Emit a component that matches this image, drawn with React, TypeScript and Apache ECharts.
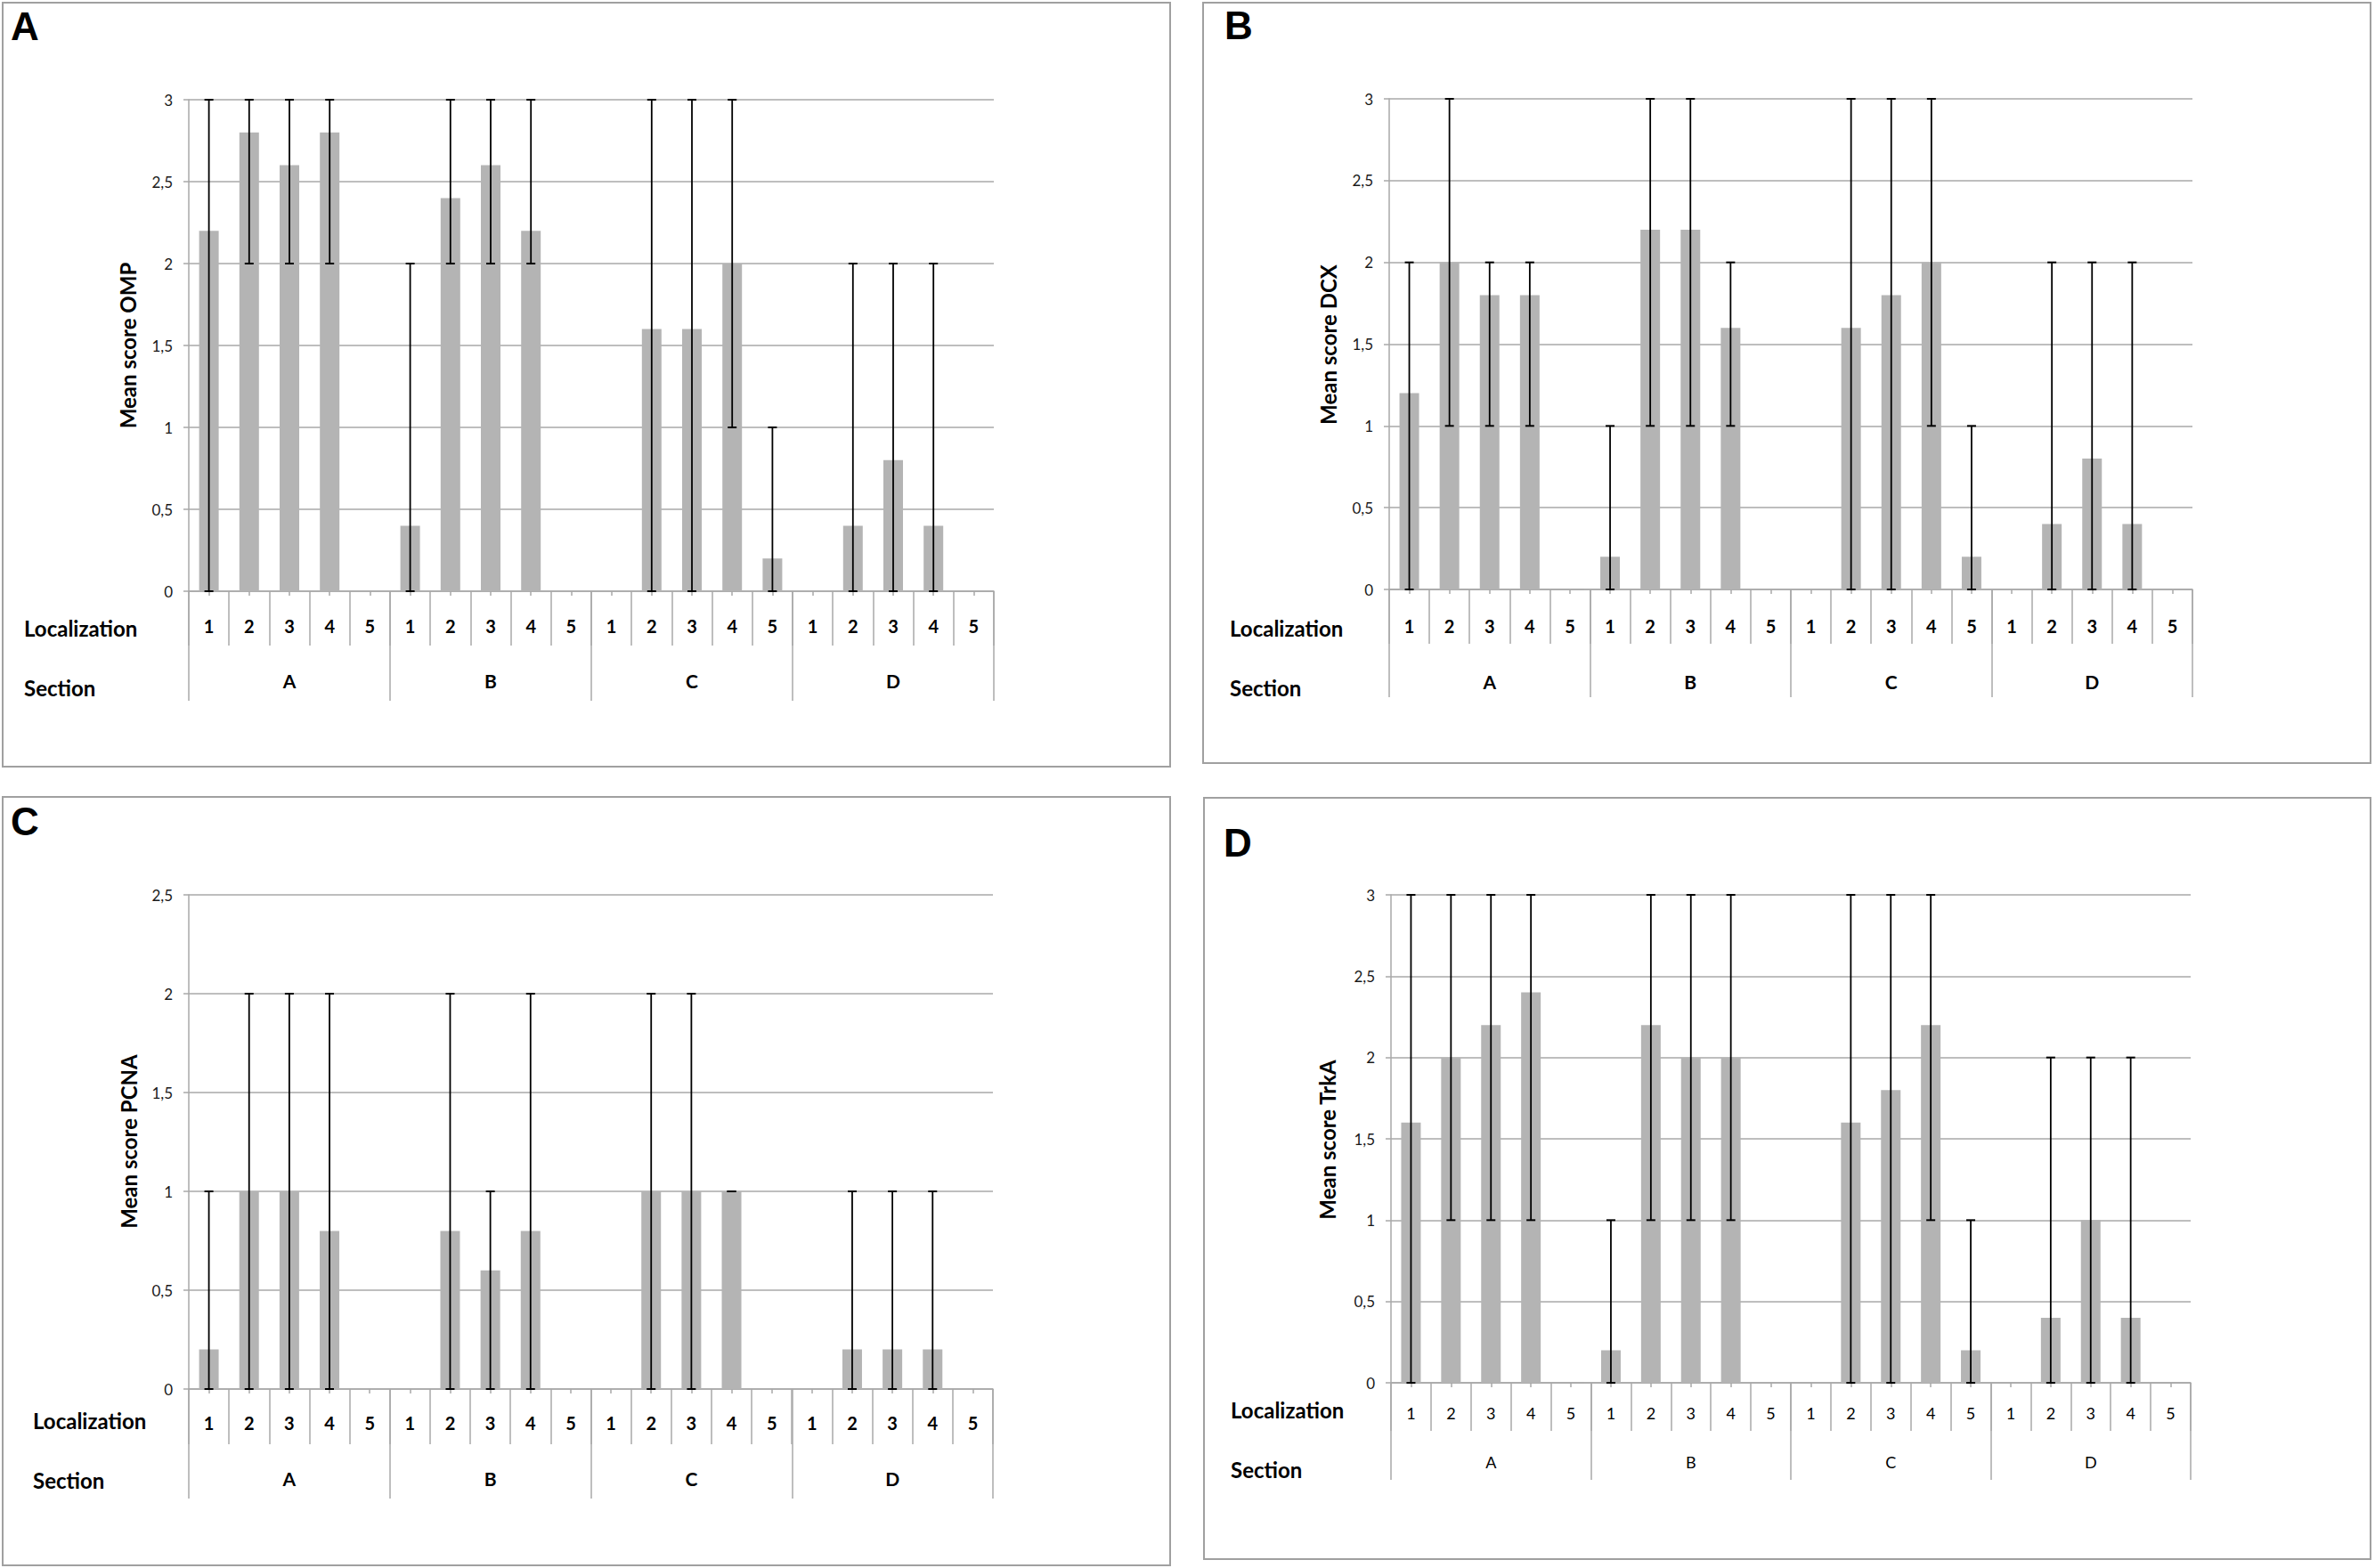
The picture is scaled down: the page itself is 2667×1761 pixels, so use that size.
import React, { useEffect, useRef } from 'react';
import * as echarts from 'echarts';

// ---------- data ----------
const localizations = ['1', '2', '3', '4', '5'];
const sections = ['A', 'B', 'C', 'D'];
const panelLetters = ['A', 'B', 'C', 'D'];
const markers = ['OMP', 'DCX', 'PCNA', 'TrkA'];
const yMaxes = [3, 3, 2.5, 3];

const ompMean = [2.2, 2.8, 2.6, 2.8, 0, 0.4, 2.4, 2.6, 2.2, 0, 0, 1.6, 1.6, 2.0, 0.2, 0, 0.4, 0.8, 0.4, 0];
const ompLow = [0, 2, 2, 2, null, 0, 2, 2, 2, null, null, 0, 0, 1, 0, null, 0, 0, 0, null];
const ompHigh = [3, 3, 3, 3, null, 2, 3, 3, 3, null, null, 3, 3, 3, 1, null, 2, 2, 2, null];

const dcxMean = [1.2, 2.0, 1.8, 1.8, 0, 0.2, 2.2, 2.2, 1.6, 0, 0, 1.6, 1.8, 2.0, 0.2, 0, 0.4, 0.8, 0.4, 0];
const dcxLow = [0, 1, 1, 1, null, 0, 1, 1, 1, null, null, 0, 0, 1, 0, null, 0, 0, 0, null];
const dcxHigh = [2, 3, 2, 2, null, 1, 3, 3, 2, null, null, 3, 3, 3, 1, null, 2, 2, 2, null];

const pcnaMean = [0.2, 1.0, 1.0, 0.8, 0, 0, 0.8, 0.6, 0.8, 0, 0, 1.0, 1.0, 1.0, 0, 0, 0.2, 0.2, 0.2, 0];
const pcnaLow = [0, 0, 0, 0, null, null, 0, 0, 0, null, null, 0, 0, 1, null, null, 0, 0, 0, null];
const pcnaHigh = [1, 2, 2, 2, null, null, 2, 1, 2, null, null, 2, 2, 1, null, null, 1, 1, 1, null];

const trkaMean = [1.6, 2.0, 2.2, 2.4, 0, 0.2, 2.2, 2.0, 2.0, 0, 0, 1.6, 1.8, 2.2, 0.2, 0, 0.4, 1.0, 0.4, 0];
const trkaLow = [0, 1, 1, 1, null, 0, 1, 1, 1, null, null, 0, 0, 1, 0, null, 0, 0, 0, null];
const trkaHigh = [3, 3, 3, 3, null, 1, 3, 3, 3, null, null, 3, 3, 3, 1, null, 2, 2, 2, null];

const means = [ompMean, dcxMean, pcnaMean, trkaMean];
const lows = [ompLow, dcxLow, pcnaLow, trkaLow];
const highs = [ompHigh, dcxHigh, pcnaHigh, trkaHigh];

// ---------- layout ----------
const W = 2667;
const H = 1761;
const FONT = 'Lato, "Open Sans", sans-serif';
const GRID_COLOR = '#a8a8a8';
const BAR_COLOR = '#b4b4b4';

const layouts = [
  { box: [3, 3, 1311, 858], grid: { left: 212, top: 112, width: 904, height: 552 }, letter: [12, 29], yTitle: [143, 388], rowX: 27, locY: 705, secY: 772, locTick: 61, secTick: 123, locMargin: 39, secMargin: 100, bold: true },
  { box: [1351, 3, 1311, 854], grid: { left: 1560, top: 111, width: 902, height: 551 }, letter: [1375, 28], yTitle: [1491, 387], rowX: 1381, locY: 705, secY: 772, locTick: 61, secTick: 121, locMargin: 41, secMargin: 103, bold: true },
  { box: [3, 895, 1311, 863], grid: { left: 212, top: 1005, width: 903, height: 555 }, letter: [12, 922], yTitle: [144, 1282], rowX: 37, locY: 1595, secY: 1662, locTick: 62, secTick: 123, locMargin: 38, secMargin: 100, bold: true },
  { box: [1352, 896, 1310, 855], grid: { left: 1562, top: 1005, width: 898, height: 548 }, letter: [1374, 946], yTitle: [1490, 1280], rowX: 1382, locY: 1583, secY: 1650, locTick: 54, secTick: 109, locMargin: 34, secMargin: 89, bold: false },
];

const categories = sections.flatMap((s) => localizations.map((l) => s + l));

function errorRender(params: any, api: any) {
  const x = api.value(0);
  const lo = api.value(1);
  const hi = api.value(2);
  const pLo = api.coord([x, lo]);
  const pHi = api.coord([x, hi]);
  const cap = 5;
  const st = { stroke: '#000', lineWidth: 2 };
  return {
    type: 'group',
    children: [
      { type: 'line', shape: { x1: pLo[0], y1: pLo[1], x2: pHi[0], y2: pHi[1] }, style: { stroke: '#000', lineWidth: 1.8 } },
      { type: 'line', shape: { x1: pHi[0] - cap, y1: pHi[1], x2: pHi[0] + cap, y2: pHi[1] }, style: st },
      { type: 'line', shape: { x1: pLo[0] - cap, y1: pLo[1], x2: pLo[0] + cap, y2: pLo[1] }, style: st },
    ],
  };
}

function buildOption() {
  const grids: any[] = [];
  const xAxes: any[] = [];
  const yAxes: any[] = [];
  const series: any[] = [];
  const graphics: any[] = [];

  layouts.forEach((L, i) => {
    grids.push({ ...L.grid, containLabel: false });
    const tickLine = { color: GRID_COLOR, width: 1.5 };
    xAxes.push({
      type: 'category', gridIndex: i, data: categories, position: 'bottom',
      axisLine: { show: true, onZero: false, lineStyle: tickLine },
      axisTick: { show: true, alignWithLabel: false, interval: 0, length: L.locTick, lineStyle: tickLine },
      axisLabel: {
        interval: 0, margin: L.locMargin, verticalAlign: 'middle',
        formatter: (v: string) => v.slice(1),
        fontFamily: FONT, fontSize: L.bold ? 20 : 18, fontWeight: L.bold ? 'bold' : 'normal', color: '#000',
      },
      splitLine: { show: false },
    });
    xAxes.push({
      type: 'category', gridIndex: i, data: sections, position: 'bottom',
      axisLine: { show: false, onZero: false },
      axisTick: { show: true, alignWithLabel: false, interval: 0, length: L.secTick, lineStyle: tickLine },
      axisLabel: {
        interval: 0, margin: L.secMargin, verticalAlign: 'middle',
        fontFamily: FONT, fontSize: L.bold ? 21 : 18, fontWeight: L.bold ? 'bold' : 'normal', color: '#000',
      },
      splitLine: { show: false },
    });
    xAxes.push({
      type: 'category', gridIndex: i, data: categories, position: 'bottom',
      axisLine: { show: false, onZero: false },
      axisTick: { show: true, alignWithLabel: true, interval: 0, length: 5, lineStyle: tickLine },
      axisLabel: { show: false },
      splitLine: { show: false },
    });
    yAxes.push({
      type: 'value', gridIndex: i, min: 0, max: yMaxes[i], interval: 0.5,
      axisLine: { show: true, lineStyle: tickLine },
      axisTick: { show: true, length: 6, lineStyle: tickLine },
      axisLabel: {
        margin: 18, fontFamily: FONT, fontSize: 17, color: '#1a1a1a',
        formatter: (v: number) => String(v).replace('.', ','),
      },
      splitLine: { show: true, lineStyle: { color: GRID_COLOR, width: 1.5 } },
    });

    series.push({
      type: 'bar', name: markers[i], xAxisIndex: i * 3, yAxisIndex: i,
      data: means[i], barWidth: 22, itemStyle: { color: BAR_COLOR }, z: 2,
    });
    const errData: any[] = [];
    lows[i].forEach((lo, k) => {
      if (lo !== null && highs[i][k] !== null) errData.push([k, lo, highs[i][k]]);
    });
    series.push({
      type: 'custom', name: markers[i] + ' range', xAxisIndex: i * 3, yAxisIndex: i,
      data: errData, encode: { x: 0, y: [1, 2] }, renderItem: errorRender, z: 5,
    });

    graphics.push({
      type: 'rect', shape: { x: L.box[0], y: L.box[1], width: L.box[2], height: L.box[3] },
      style: { fill: 'none', stroke: '#a0a0a0', lineWidth: 2 }, z: 0,
    });
    graphics.push({
      type: 'text', x: L.letter[0], y: L.letter[1],
      style: { text: panelLetters[i], font: 'bold 44px "Liberation Sans", Arial, sans-serif', fill: '#000', align: 'left', verticalAlign: 'middle', textAlign: 'left', textVerticalAlign: 'middle' },
    });
    graphics.push({
      type: 'text', x: L.yTitle[0], y: L.yTitle[1], rotation: Math.PI / 2,
      style: { text: 'Mean score ' + markers[i], font: 'bold 24px ' + FONT, fill: '#000', align: 'center', verticalAlign: 'middle', textAlign: 'center', textVerticalAlign: 'middle' },
    });
    graphics.push({
      type: 'text', x: L.rowX, y: L.locY,
      style: { text: 'Localization', font: 'bold 24px ' + FONT, fill: '#000', align: 'left', verticalAlign: 'middle', textAlign: 'left', textVerticalAlign: 'middle' },
    });
    graphics.push({
      type: 'text', x: L.rowX, y: L.secY,
      style: { text: 'Section', font: 'bold 24px ' + FONT, fill: '#000', align: 'left', verticalAlign: 'middle', textAlign: 'left', textVerticalAlign: 'middle' },
    });
  });

  return {
    animation: false,
    backgroundColor: '#ffffff',
    grid: grids,
    xAxis: xAxes,
    yAxis: yAxes,
    series,
    graphic: { elements: graphics },
  };
}

export default function App() {
  const ref = useRef<HTMLDivElement>(null);
  useEffect(() => {
    document.body.style.margin = '0';
    const chart = echarts.init(ref.current as HTMLDivElement, null, { renderer: 'svg', width: W, height: H });
    chart.setOption(buildOption() as any);
    return () => chart.dispose();
  }, []);
  return <div ref={ref} style={{ width: W, height: H, background: '#fff' }} />;
}
